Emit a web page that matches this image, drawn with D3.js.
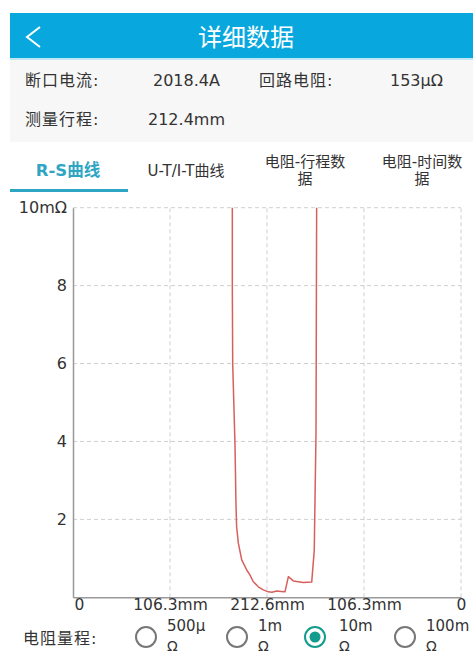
<!DOCTYPE html>
<html>
<head>
<meta charset="utf-8">
<script src="https://cdn.jsdelivr.net/npm/d3@7"></script>
<style>
  html, body { margin: 0; padding: 0; background: #fff; }
  svg { display: block; }
  text { font-family: "DejaVu Sans", "Noto Sans CJK SC", sans-serif; }
</style>
</head>
<body>
<svg id="chart" width="473" height="655"></svg>
<script>
// Resistance vs. travel record (travel in mm along the stroke, resistance in mΩ)
const travel = [174.6, 174.6, 175.0, 177.5, 178.6, 179.3, 181.2, 184.9, 190.4, 194.0, 197.6, 203.1, 208.5, 214.0, 218.0, 223.2, 228.0, 232.3, 236.0, 241.4, 252.4, 261.6, 264.4, 265.2, 266.3, 267.0];
const resistance = [10, 8, 6, 3.95, 2.4, 1.81, 1.39, 0.96, 0.70, 0.57, 0.40, 0.27, 0.19, 0.14, 0.13, 0.16, 0.15, 0.14, 0.53, 0.42, 0.38, 0.39, 1.21, 2.5, 4.2, 10];

const xTickValues = [0, 106.3, 212.6, 318.9, 425.2];
const xTickLabels = ["0", "106.3mm", "212.6mm", "106.3mm", "0"];
const yTickValues = [2, 4, 6, 8, 10];
const yTickLabels = ["2", "4", "6", "8", "10mΩ"];

const infoLabels = ["断口电流:", "回路电阻:", "测量行程:"];
const infoValues = ["2018.4A", "153μΩ", "212.4mm"];
const tabLabels = [["R-S曲线"], ["U-T/I-T曲线"], ["电阻-行程数", "据"], ["电阻-时间数", "据"]];
const rangeOptions = [["500μ", "Ω"], ["1m", "Ω"], ["10m", "Ω"], ["100m", "Ω"]];
const selectedRange = 2;

const svg = d3.select("#chart");
const BLUE = "#08a8de", TEAL = "#2fa5c4", GREEN = "#149b8c", TEXT = "#333";

// Title bar
svg.append("rect").attr("x", 10).attr("y", 13).attr("width", 463).attr("height", 45).attr("fill", BLUE);
svg.append("rect").attr("x", 10).attr("y", 58).attr("width", 463).attr("height", 2).attr("fill", "#bfe8f4");
svg.append("path").attr("d", "M40,27 L27,37 L40,47").attr("fill", "none")
  .attr("stroke", "#fff").attr("stroke-width", 2);
svg.append("text").attr("x", 246).attr("y", 46).attr("text-anchor", "middle")
  .attr("fill", "#fff").attr("font-size", 24).text("详细数据");

// Summary block
svg.append("rect").attr("x", 10).attr("y", 60).attr("width", 463).attr("height", 82).attr("fill", "#f7f7f7");
const info = svg.append("g").attr("font-size", 16).attr("fill", TEXT);
const lbl = (tx, ty, s) => info.append("text").attr("x", tx).attr("y", ty).attr("letter-spacing", 1).text(s);
const val = (tx, ty, s) => info.append("text").attr("x", tx).attr("y", ty).text(s);
lbl(25, 86, infoLabels[0]);
val(153, 86, infoValues[0]);
lbl(259, 86, infoLabels[1]);
val(390, 86, infoValues[1]);
lbl(25, 125, infoLabels[2]);
val(148, 125, infoValues[2]);

// Tabs
const tabCenters = [68, 186, 305, 422];
tabLabels.forEach((lines, i) => {
  const first = i === 0;
  lines.forEach((s, k) => {
    svg.append("text").attr("text-anchor", "middle")
      .attr("x", tabCenters[i])
      .attr("y", lines.length === 1 ? 176 : (k === 0 ? 167 : 184))
      .attr("fill", first ? TEAL : TEXT)
      .attr("font-size", first ? 16.5 : 15)
      .attr("font-weight", first ? "bold" : "normal")
      .text(s);
  });
});
svg.append("rect").attr("x", 10).attr("y", 189).attr("width", 118).attr("height", 3).attr("fill", TEAL);

// Chart
const x = d3.scaleLinear().domain([0, 425.2]).range([73, 461]);
const y = d3.scaleLinear().domain([0, 10]).range([597.3, 207.7]);

const grid = svg.append("g").attr("stroke", "#cfcfcf").attr("stroke-dasharray", "4,3").attr("stroke-width", 1);
grid.selectAll(".gy").data(yTickValues).join("line")
  .attr("x1", x(0)).attr("x2", x(425.2))
  .attr("y1", d => y(d)).attr("y2", d => y(d));
grid.selectAll(".gx").data(xTickValues.slice(1)).join("line")
  .attr("x1", d => x(d)).attr("x2", d => x(d))
  .attr("y1", y(0)).attr("y2", y(10));

const fontStack = "\"DejaVu Sans\", \"Noto Sans CJK SC\", sans-serif";
const yAxis = d3.axisLeft(y).tickValues(yTickValues).tickSize(0).tickPadding(6)
  .tickFormat((d, i) => yTickLabels[i]);
const gy = svg.append("g").attr("transform", `translate(${x(0)},0)`).call(yAxis);
gy.select(".domain").attr("stroke", "#999").attr("stroke-width", 1.5);
gy.selectAll("text").attr("font-size", 16).attr("fill", TEXT).attr("font-family", fontStack);

const xAxis = d3.axisBottom(x).tickValues(xTickValues).tickSize(0).tickPadding(2)
  .tickFormat((d, i) => xTickLabels[i]);
const gx = svg.append("g").attr("transform", `translate(0,${y(0)})`).call(xAxis);
gx.select(".domain").attr("stroke", "#999").attr("stroke-width", 1.5);
gx.selectAll("text").attr("font-size", 15.5).attr("fill", TEXT).attr("font-family", fontStack);
gx.selectAll(".tick").filter((d, i) => i === 0).select("text").attr("text-anchor", "start").attr("dx", 1);

const points = travel.map((t, i) => [t, resistance[i]]);
const line = d3.line().x(d => x(d[0])).y(d => y(d[1]));
svg.append("path").datum(points).attr("d", line)
  .attr("fill", "none").attr("stroke", "#d6605c").attr("stroke-width", 1.5)
  .attr("stroke-linejoin", "round");

// Range selector
svg.append("text").attr("x", 23).attr("y", 644).attr("font-size", 16).attr("letter-spacing", 1)
  .attr("fill", TEXT).text("电阻量程:");
const radioX = [146, 237, 315, 405];
const labelX = [167, 258, 339, 426];
rangeOptions.forEach((opt, i) => {
  const sel = i === selectedRange;
  svg.append("circle").attr("cx", radioX[i]).attr("cy", 637).attr("r", 10)
    .attr("fill", "none").attr("stroke", sel ? GREEN : "#777").attr("stroke-width", 2);
  if (sel) {
    svg.append("circle").attr("cx", radioX[i]).attr("cy", 637).attr("r", 5.5).attr("fill", GREEN);
  }
  svg.append("text").attr("x", labelX[i]).attr("y", 631).attr("font-size", 15).attr("fill", TEXT).text(opt[0]);
  svg.append("text").attr("x", labelX[i]).attr("y", 651).attr("font-size", 14).attr("fill", TEXT).text(opt[1]);
});
</script>
</body>
</html>
